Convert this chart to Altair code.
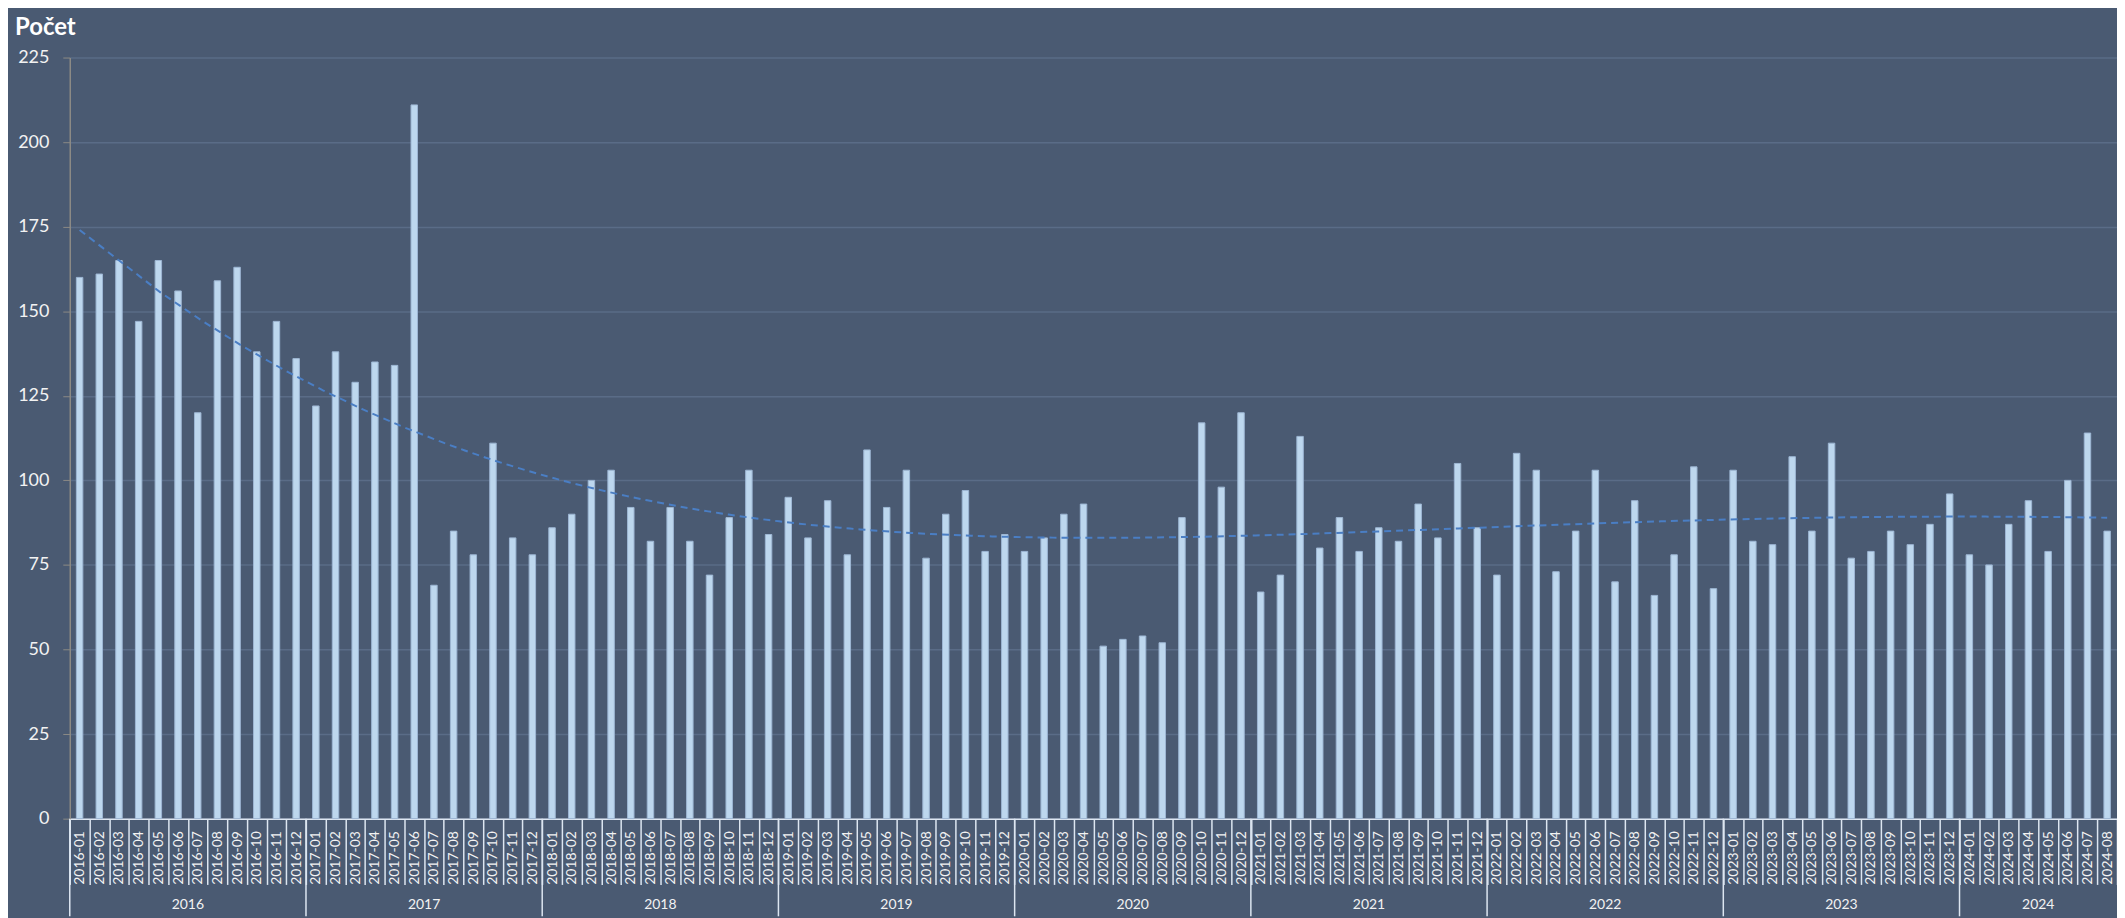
import altair as alt
import pandas as pd

years = ["2016", "2017", "2018", "2019", "2020", "2021", "2022", "2023", "2024"]

v2016 = [160, 161, 165, 147, 165, 156, 120, 159, 163, 138, 147, 136]
v2017 = [122, 138, 129, 135, 134, 211, 69, 85, 78, 111, 83, 78]
v2018 = [86, 90, 100, 103, 92, 82, 92, 82, 72, 89, 103, 84]
v2019 = [95, 83, 94, 78, 109, 92, 103, 77, 90, 97, 79, 84]
v2020 = [79, 83, 90, 93, 51, 53, 54, 52, 89, 117, 98, 120]
v2021 = [67, 72, 113, 80, 89, 79, 86, 82, 93, 83, 105, 86]
v2022 = [72, 108, 103, 73, 85, 103, 70, 94, 66, 78, 104, 68]
v2023 = [103, 82, 81, 107, 85, 111, 77, 79, 85, 81, 87, 96]
v2024 = [78, 75, 87, 94, 79, 100, 114, 85]

counts = v2016 + v2017 + v2018 + v2019 + v2020 + v2021 + v2022 + v2023 + v2024
months = [f"{y}-{m:02d}" for y in years for m in range(1, 13)][: len(counts)]

year_starts = [f"{y}-01" for y in years]
year_label_months = ["2016-07", "2017-07", "2018-07", "2019-07", "2020-07",
                     "2021-07", "2022-07", "2023-07", "2024-05"]
y_ticks = [0, 25, 50, 75, 100, 125, 150, 175, 200, 225]

df = pd.DataFrame({"month": months, "count": counts, "idx": list(range(len(counts)))})

W, H = 2055, 764
BG = "#4A5A72"
LABEL = "#F2F2F2"
SEP = "#DDE6F1"

bars = alt.Chart(df).mark_bar(size=6.5, color="#BDD7EE", stroke="#9DB6D3", strokeWidth=1).encode(
    x=alt.X(
        "month:N",
        scale=alt.Scale(domain=months, paddingInner=0, paddingOuter=0),
        axis=alt.Axis(
            title=None, labelAngle=-90, labelFont="Lato", labelFontSize=14,
            labelColor=LABEL, tickBand="extent", tickSize=66, tickColor=SEP,
            tickWidth=1.5, labelPadding=-54, domainColor=SEP, domainWidth=1.5,
            grid=False, labelOverlap=False,
        ),
    ),
    y=alt.Y(
        "count:Q",
        scale=alt.Scale(domain=[0, 225], nice=False),
        axis=alt.Axis(
            title=None, values=y_ticks, grid=True, gridColor="#5A6C87", gridWidth=1.5,
            domainColor="#8C8A85", domainWidth=1.5, tickColor="#8C8A85", tickSize=7,
            labelPadding=14, labelFont="Lato", labelFontSize=18, labelColor=LABEL,
        ),
    ),
)

rules = alt.Chart(pd.DataFrame({"month": year_starts})).mark_rule(
    color=SEP, strokeWidth=1.5
).encode(
    x=alt.X("month:N", bandPosition=0),
    y=alt.value(H),
    y2=alt.value(H + 98),
)

ylabels = alt.Chart(pd.DataFrame({"month": year_label_months, "year": years})).mark_text(
    font="Lato", fontSize=14, color=LABEL, baseline="middle"
).encode(
    x=alt.X("month:N", bandPosition=0),
    y=alt.value(H + 87),
    text="year:N",
)

trend = alt.Chart(df).transform_regression(
    "idx", "count", method="poly", order=4, extent=[0, len(counts) - 1]
).mark_line(color="#4A7EC4", strokeWidth=2, strokeDash=[7, 5]).encode(
    x=alt.X("idx:Q", scale=alt.Scale(domain=[-0.5, len(counts) - 0.5], nice=False, zero=False), axis=None),
    y=alt.Y("count:Q"),
)

chart = alt.layer(alt.layer(bars, rules, ylabels), trend).resolve_scale(
    x="independent"
).properties(
    width=W,
    height=H,
    padding={"left": 62, "top": 48, "right": 0, "bottom": 98},
    autosize=alt.AutoSizeParams(type="none"),
    background=BG,
    title=alt.TitleParams(
        "Počet", anchor="start", frame="group", font="Lato", fontSize=24,
        fontWeight="bold", color="white", dx=-55, dy=5, offset=14,
    ),
).configure_view(stroke=None)

chart.save("out.html", embed_options={"renderer": "svg", "actions": False})
